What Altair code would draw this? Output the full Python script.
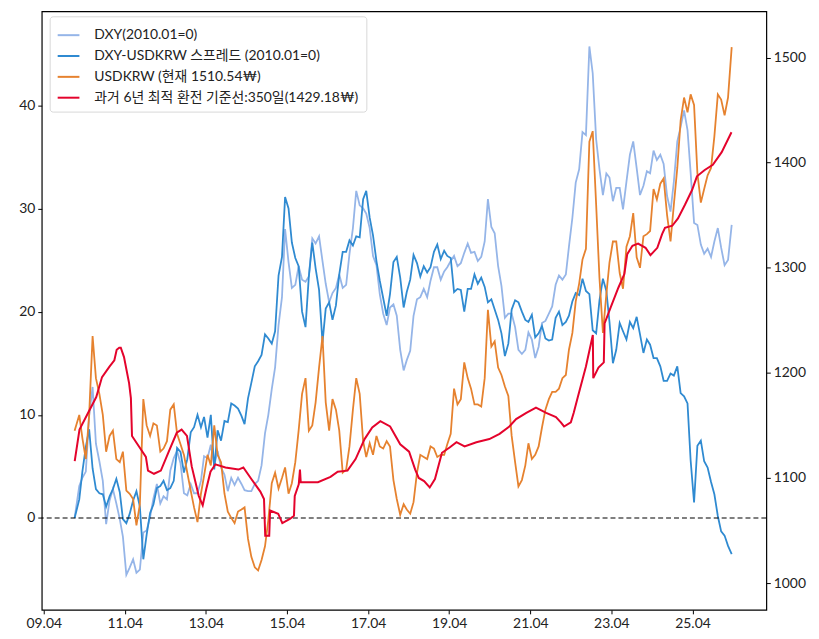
import altair as alt
import pandas as pd

# ---- data (monthly readings, 2010-01 .. 2026-03) ----
dxy_pct = [
    0.0, 3.1, 3.9, 4.5, 9.9, 12.7, 7.2, 5.5, 3.6, -0.6, 1.7, 2.8,
    1.4, -0.1, -1.8, -5.5, -4.8, -4.0, -5.3, -5.0, -1.4, -1.2, 0.1, 1.9,
    3.3, 1.4, 2.1, 1.8, 4.6, 5.8, 6.5, 5.3, 2.4, 2.2, 3.3, 2.4,
    2.4, 3.6, 6.0, 5.8, 7.1, 5.1, 6.5, 4.9, 4.2, 2.6, 3.9, 3.2,
    3.9, 3.3, 2.7, 2.6, 2.6, 3.3, 3.6, 5.1, 8.2, 10.0, 12.5, 14.6,
    18.7, 21.4, 28.0, 24.8, 22.3, 22.6, 24.4, 23.1, 22.9, 23.4, 27.1, 26.6,
    27.3, 24.9, 22.7, 20.9, 21.8, 22.3, 23.6, 22.3, 22.6, 25.6, 28.1, 31.7,
    30.3, 30.0, 29.5, 28.1, 25.4, 24.5, 21.7, 19.8, 18.7, 20.4, 20.7, 19.6,
    16.3, 14.3, 15.3, 16.2, 19.6, 21.2, 21.4, 22.2, 21.4, 23.0, 24.3, 24.3,
    23.1, 23.9, 24.3, 24.9, 25.4, 24.4, 24.7, 25.7, 26.6, 25.7, 25.8, 24.9,
    25.3, 26.8, 30.9, 28.2, 27.6, 24.4, 22.5, 19.4, 19.8, 19.8, 18.5, 16.3,
    15.9, 16.3, 18.0, 17.3, 15.5, 16.6, 18.9, 19.1, 19.8, 20.5, 22.6, 23.5,
    23.1, 23.6, 26.3, 29.1, 32.5, 33.8, 37.4, 37.1, 45.7, 43.1, 36.7, 33.8,
    31.3, 33.4, 33.0, 30.7, 32.0, 32.0, 29.9, 32.6, 35.2, 36.5, 33.9, 31.3,
    32.2, 33.6, 33.4, 35.6, 34.7, 35.2, 34.3, 31.2, 29.7, 32.6, 36.5, 37.9,
    39.5, 37.6, 33.5, 28.6, 28.4, 26.5, 25.6, 26.1, 25.3, 26.8, 28.1, 26.2,
    24.5, 25.0, 28.4,
]
spread_pct = [
    0.0, 1.8, 4.5, 6.9, 8.6, 4.8, 2.8, 2.4, 2.3, 1.1, 2.1, 2.8,
    3.8, 2.5, -0.1, -0.5, 0.4, 1.7, 2.6, 1.1, -4.0, -1.6, 0.5, 1.3,
    2.9, 3.1, 3.6, 2.7, 2.9, 3.6, 6.8, 6.4, 4.4, 5.7, 8.3, 8.8,
    10.0, 8.8, 9.8, 7.8, 10.0, 4.7, 8.5, 7.5, 9.4, 9.3, 11.1, 10.9,
    10.6, 9.9, 9.1, 11.6, 13.1, 14.7, 15.2, 15.8, 17.8, 17.4, 16.9, 18.1,
    23.5, 25.3, 31.1, 30.0, 26.7, 25.2, 24.4, 20.0, 18.5, 23.4, 26.7, 24.2,
    22.1, 17.0, 20.3, 20.9, 19.2, 20.6, 23.6, 25.8, 25.8, 26.9, 26.4, 27.3,
    27.2, 30.9, 31.7, 29.1, 27.4, 24.9, 23.0, 21.3, 19.6, 21.7, 24.8, 25.3,
    23.3, 20.4, 21.9, 23.1, 25.5, 24.7, 23.4, 24.4, 23.8, 24.3, 25.8, 26.5,
    25.1, 25.9, 25.4, 25.2, 21.9, 22.2, 22.1, 20.0, 22.2, 22.2, 23.6, 22.7,
    23.3, 22.4, 20.9, 21.2, 20.2, 19.2, 17.9, 15.7, 16.9, 20.2, 21.1, 20.9,
    20.0, 19.2, 19.0, 19.7, 17.5, 17.9, 18.6, 17.4, 17.2, 17.3, 19.4, 20.0,
    18.7, 19.0, 19.6, 21.0, 21.8, 21.6, 23.2, 22.0, 21.7, 18.2, 17.9, 21.1,
    23.2, 22.0, 19.0, 15.0, 16.3, 18.9, 18.1, 17.3, 19.0, 18.4, 19.5, 17.8,
    16.0, 17.3, 16.8, 15.5, 15.5, 14.7, 13.3, 13.3, 14.0, 13.8, 14.7, 12.1,
    11.8, 11.1, 5.6, 1.5, 7.0, 7.5, 5.5, 4.9, 3.5, 2.3, 0.2, -1.3,
    -1.7, -2.7, -3.5,
]
usdkrw = [
    1145, 1160, 1138, 1118, 1160, 1235, 1195, 1180, 1160, 1125, 1140, 1145,
    1118, 1115, 1125, 1088, 1085, 1080, 1055, 1075, 1175, 1150, 1140, 1152,
    1150, 1125, 1128, 1135, 1165, 1170, 1142, 1132, 1122, 1105, 1088, 1072,
    1058, 1085, 1102, 1122, 1112, 1150, 1122, 1115, 1085, 1068, 1062, 1057,
    1068, 1070, 1072, 1042, 1025, 1015, 1012, 1022, 1035, 1060, 1095, 1105,
    1090, 1100, 1110, 1085, 1095, 1115, 1145, 1180, 1195, 1145, 1150, 1172,
    1205, 1235, 1172, 1145, 1175, 1165, 1145, 1105, 1108, 1130, 1165, 1195,
    1180, 1135, 1120, 1133, 1122, 1140, 1130, 1128, 1135, 1130, 1098, 1080,
    1065, 1075, 1070, 1066, 1077, 1105, 1122, 1120, 1118, 1130, 1128, 1120,
    1122, 1122, 1132, 1142, 1185, 1170, 1175, 1210, 1195, 1185, 1170, 1170,
    1168, 1195, 1260, 1225, 1230, 1205, 1198, 1187, 1178, 1140, 1115, 1092,
    1098, 1112, 1133, 1118, 1122, 1130, 1148, 1165, 1175, 1182, 1182, 1185,
    1195, 1198, 1222, 1238, 1268, 1285, 1308, 1318, 1420, 1430, 1360, 1290,
    1238, 1275, 1305, 1325, 1325, 1295, 1280, 1320, 1330, 1352, 1310, 1300,
    1330, 1332, 1335, 1375, 1365, 1380, 1385, 1350, 1325, 1360, 1395, 1440,
    1462, 1448, 1465, 1455, 1390, 1362, 1375, 1388, 1395, 1425, 1465, 1460,
    1445, 1462, 1510,
]
months = [f"{y}-{m:02d}-15" for y in range(2010, 2027) for m in range(1, 13)][:len(usdkrw)]
months[0] = "2010-01-04"
months[-1] = "2026-03-20"

base_dates = [
    "2010-01-05", "2010-02-17", "2010-07-18", "2010-09-08", "2010-11-14", "2010-12-28",
    "2011-01-18", "2011-02-10", "2011-02-24", "2011-03-25", "2011-05-10", "2011-05-26",
    "2011-06-05", "2011-08-07", "2011-10-08", "2011-10-27", "2011-12-20", "2012-02-20",
    "2012-05-01", "2012-07-12", "2012-08-25", "2012-10-12", "2012-11-24", "2013-01-26",
    "2013-03-03", "2013-04-05", "2013-05-12", "2013-06-25", "2013-09-24", "2014-01-19",
    "2014-03-04", "2014-05-15", "2014-08-04", "2014-09-06", "2014-09-17", "2014-10-23",
    "2014-10-31", "2015-01-12", "2015-02-18", "2015-04-27", "2015-06-03", "2015-06-10",
    "2015-07-16", "2015-07-27", "2015-08-03", "2016-01-05", "2016-04-27", "2016-07-01",
    "2016-09-27", "2016-12-09", "2017-02-28", "2017-05-08", "2017-07-20", "2017-10-16",
    "2018-01-15", "2018-04-05", "2018-05-30", "2018-07-01", "2018-08-18", "2018-10-08",
    "2018-11-24", "2019-01-26", "2019-04-05", "2019-06-06", "2019-08-18", "2019-12-02",
    "2020-03-28", "2020-06-28", "2020-09-24", "2020-11-24", "2021-02-24", "2021-05-22",
    "2021-08-22", "2021-11-18", "2022-01-01", "2022-01-30", "2022-04-01", "2022-04-27",
    "2022-06-03", "2022-08-15", "2022-10-16", "2022-10-20", "2022-12-06", "2023-01-23",
    "2023-01-30", "2023-03-25", "2023-06-03", "2023-07-27", "2023-08-22", "2023-10-08",
    "2023-11-28", "2024-02-03", "2024-03-18", "2024-05-19", "2024-07-01", "2024-07-27",
    "2024-10-01", "2024-11-21", "2025-01-23", "2025-03-28", "2025-05-11", "2025-07-20",
    "2025-10-01", "2025-12-20", "2026-03-18",
]
base_values = [
    1116, 1146, 1177, 1196, 1206, 1212,
    1222, 1224, 1224, 1215, 1190, 1176,
    1140, 1130, 1120, 1107, 1104, 1107,
    1125, 1143, 1146, 1140, 1111, 1083,
    1074, 1090, 1106, 1113, 1110, 1108,
    1110, 1099, 1087, 1080, 1045, 1045,
    1069, 1066, 1057, 1061, 1064, 1083,
    1094, 1108, 1096, 1096, 1101, 1106,
    1107, 1118, 1137, 1148, 1154, 1149,
    1132, 1125, 1108, 1100, 1097, 1091,
    1099, 1124, 1129, 1134, 1130, 1134,
    1137, 1142, 1149, 1156, 1162, 1167,
    1162, 1158, 1153, 1149, 1153, 1162,
    1177, 1206, 1236, 1195, 1205, 1210,
    1247, 1262, 1281, 1294, 1313, 1321,
    1323, 1319, 1312, 1319, 1332, 1338,
    1340, 1347, 1360, 1374, 1387, 1393,
    1398, 1410, 1429,
]

series_names = [
    "DXY(2010.01=0)",
    "DXY-USDKRW 스프레드 (2010.01=0)",
    "USDKRW (현재 1510.54₩)",
    "과거 6년 최적 환전 기준선:350일(1429.18₩)",
]
series_colors = ["#95b5e8", "#2f8ad1", "#e6822f", "#e4032c"]
x_ticks = [2009, 2011, 2013, 2015, 2017, 2019, 2021, 2023, 2025]
left_ticks = [0, 10, 20, 30, 40]
right_ticks = [1000, 1100, 1200, 1300, 1400, 1500]

monthly = pd.DataFrame({"date": months, "dxy": dxy_pct, "spread": spread_pct, "krw": usdkrw})
baseline = pd.DataFrame({"date": base_dates, "value": base_values})
zero_df = pd.DataFrame({"y": [0]})

FONT = "Lato, 'Noto Sans CJK KR', sans-serif"

x_enc = alt.X(
    "date:T",
    scale=alt.Scale(type="utc", domain=[alt.DateTime(year=2009, month=3, date=14, utc=True),
                                        alt.DateTime(year=2027, month=1, date=26, utc=True)]),
    axis=alt.Axis(values=[alt.DateTime(year=y, month=4, date=1, utc=True) for y in x_ticks],
                  format="%y.%m", title=None, grid=False),
)
color_scale = alt.Scale(domain=series_names, range=series_colors)
legend = alt.Legend(
    title=None, orient="none", legendX=8, legendY=5,
    symbolType="stroke", symbolSize=480, symbolStrokeWidth=2,
    labelFontSize=14, labelFont=FONT, labelColor="#222", labelLimit=400,
    rowPadding=2, labelOffset=14,
    padding=7, fillColor="white", strokeColor="#d8d8d8", cornerRadius=3,
)
left_scale = alt.Scale(domain=[-8.9, 49.1], nice=False, zero=False)
right_scale = alt.Scale(domain=[974.5, 1544], nice=False, zero=False)
left_axis = alt.Axis(values=left_ticks, title=None, orient="left", grid=False)
right_axis = alt.Axis(values=right_ticks, title=None, orient="right", grid=False, format="d")

base = alt.Chart(monthly)

dxy_line = base.mark_line(strokeWidth=1.8).transform_calculate(series=f"'{series_names[0]}'").encode(
    x=x_enc, y=alt.Y("dxy:Q", scale=left_scale, axis=left_axis),
    color=alt.Color("series:N", scale=color_scale, legend=legend),
)
spread_line = base.mark_line(strokeWidth=1.8).transform_calculate(series=f"'{series_names[1]}'").encode(
    x=x_enc, y=alt.Y("spread:Q", scale=left_scale, axis=left_axis),
    color=alt.Color("series:N", scale=color_scale, legend=legend),
)
zero_rule = alt.Chart(zero_df).mark_rule(color="black", strokeDash=[5, 3], strokeWidth=1.2).encode(
    y=alt.Y("y:Q", scale=left_scale, axis=left_axis)
)
krw_line = base.mark_line(strokeWidth=1.8).transform_calculate(series=f"'{series_names[2]}'").encode(
    x=x_enc, y=alt.Y("krw:Q", scale=right_scale, axis=right_axis),
    color=alt.Color("series:N", scale=color_scale, legend=legend),
)
base_line = alt.Chart(baseline).mark_line(strokeWidth=2).transform_calculate(series=f"'{series_names[3]}'").encode(
    x=x_enc, y=alt.Y("value:Q", scale=right_scale, axis=right_axis),
    color=alt.Color("series:N", scale=color_scale, legend=legend),
)

left = alt.layer(dxy_line, spread_line, zero_rule)
right = alt.layer(krw_line, base_line)

chart = alt.layer(left, right).resolve_scale(y="independent").properties(
    width=730, height=603,
    autosize=alt.AutoSizeParams(type="none"),
    padding={"left": 34, "top": 1, "right": 45, "bottom": 30},
).configure(
    font=FONT
).configure_view(
    stroke="black", strokeWidth=1.2
).configure_axis(
    domain=False, grid=False, tickColor="black", tickSize=4, tickWidth=1,
    labelFontSize=14, labelFont=FONT, labelColor="#222", labelPadding=3,
)

chart.save("out.html", embed_options={"renderer": "svg", "actions": False})
